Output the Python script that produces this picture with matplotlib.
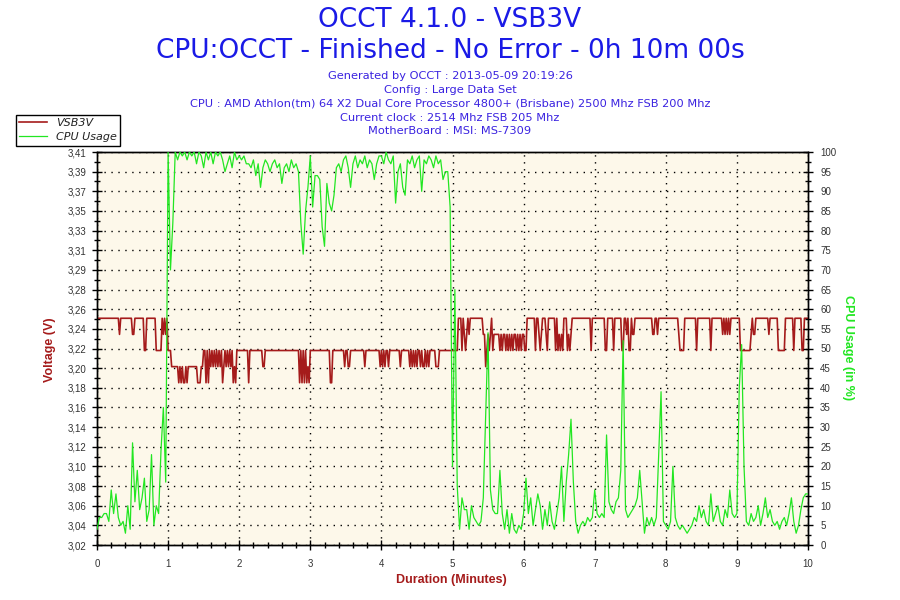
import numpy as np
import matplotlib
matplotlib.use("Agg")
import matplotlib.pyplot as plt
from matplotlib.ticker import FixedLocator, MultipleLocator

# ---------------- data ----------------
# voltage level codes, one character per second, one string per minute
volt_levels = {"A": 3.245, "B": 3.229, "C": 3.213, "D": 3.197, "E": 3.181}
volt_m0 = ("AAAAAAAAAAAAAAAAAAA" "B" "AAAAAAAAAA" "BB" "AAAAAAAA" "CC"
           "AAAAAAAA" "CCCCC" "ABABA")
volt_m1 = ("CCC" "DDDDDD" "EDEDEEDED" "DDDDDDD" "EEE" "DD" "C"
           "CECECDCDCDCDCDCEDCDCDCDCEDECC")
volt_m2 = ("CCCCCCCC" "E" "CCCCCCCCCCC" "DD" "CCCCCCCCCC" "CCCCCCCCCC"
           "CCCCCCCCC" "ECECECEDE")
volt_m3 = ("CCCCCCCCCCCCCCCCC" "EE" "CCCCCCCCCC" "D" "CC" "DD" "CCCCCCCCCCCC"
           "D" "CCCCCCCCCCCC" "D")
volt_m4 = ("CDCDCCDC" "CCCCCCCC" "D" "CCCCCCC" "DCDCDCDCCDCDDCDCDC" "CCCC"
           "DDD" "C" "CCCCCCCCCC")
volt_m5 = ("CCCCC" "AAA" "CABCBAB" "AAAAAAAAAAA" "BBDCBCBAC" "BBBBB"
           "CBCBBCBCBCBCBBCBCBCB")
volt_m6 = ("BCC" "AAAAAAA" "CAA" "BCB" "AAA" "BC" "AAAAA" "ACACBCBCAAACBCB"
           "AAAAAAAAAAAAAAAA" "CAA")
volt_m7 = ("AAAAAAAAA" "CC" "AAAAA" "C" "AAAAAA" "CC" "AA" "BACCABB"
           "AAAAAAAAAAAAAAA" "BB" "AA" "B" "AAAAAA")
volt_m8 = ("AAAAAAAAAAA" "B" "CCCC" "AAAAAAAAAA" "C" "AAAAAAAAAAA" "C"
           "AAAAAAAAA" "BABABAB" "AAAAA")
volt_m9 = ("AAA" "CCCCCCCCC" "BABB" "AAAAAAAAAAA" "B" "AAAAAAA" "CCCCCC"
           "AAAAAAA" "C" "AAAAAA" "CC" "AAA")
volt_end = "A"

# CPU usage (%), one value every 2 seconds, one list per minute
cpu_m0 = [4, 7, 7, 8, 8, 6, 14, 8, 13, 7, 5, 6, 3, 10, 4, 26, 11, 19, 9, 12,
          17, 6, 9, 23, 5, 10, 8, 24, 35, 16]
cpu_m1 = [100, 70, 82, 100, 98, 100, 99, 100, 98, 100, 99, 100, 97, 100, 99,
          96, 100, 98, 100, 97, 100, 99, 100, 98, 95, 97, 99, 96, 100, 98]
cpu_m2 = [99, 98, 99, 97, 97, 96, 98, 94, 97, 91, 96, 98, 97, 95, 97, 98, 96,
          97, 92, 96, 97, 95, 98, 96, 97, 95, 82, 74, 85, 91]
cpu_m3 = [99, 86, 94, 94, 93, 81, 76, 92, 87, 85, 89, 96, 97, 95, 98, 99, 96,
          91, 97, 99, 96, 98, 97, 99, 96, 98, 97, 93, 97, 99]
cpu_m4 = [99, 97, 100, 98, 97, 99, 87, 95, 97, 91, 89, 98, 97, 99, 96, 98, 99,
          90, 98, 97, 99, 98, 96, 99, 97, 98, 93, 95, 95, 86]
cpu_m5 = [20, 65, 15, 4, 12, 9, 9, 4, 10, 7, 6, 5, 6, 12, 33, 54, 14, 9, 8, 8,
          19, 8, 4, 9, 3, 8, 4, 3, 5, 4]
cpu_m6 = [8, 17, 8, 12, 5, 9, 13, 10, 4, 9, 5, 11, 6, 4, 8, 12, 20, 6, 16, 23,
          32, 16, 6, 3, 5, 6, 5, 7, 6, 7]
cpu_m7 = [14, 8, 7, 8, 7, 28, 11, 9, 8, 11, 12, 19, 52, 9, 7, 8, 9, 10, 12, 19,
          11, 3, 7, 5, 7, 5, 7, 23, 39, 6]
cpu_m8 = [5, 4, 6, 20, 7, 5, 4, 5, 4, 3, 4, 5, 7, 6, 10, 7, 9, 6, 5, 13, 6, 8,
          10, 6, 5, 9, 7, 14, 8, 7]
cpu_m9 = [8, 40, 51, 20, 6, 5, 8, 6, 7, 10, 5, 8, 12, 7, 9, 6, 5, 6, 4, 6, 7,
          5, 8, 12, 6, 3, 5, 9, 12, 13]
cpu_end = [13]

volt_tick_labels = ["3,02", "3,04", "3,06", "3,08", "3,10", "3,12", "3,14",
                    "3,16", "3,18", "3,20", "3,22", "3,24", "3,26", "3,28",
                    "3,29", "3,31", "3,33", "3,35", "3,37", "3,39", "3,41"]
cpu_ticks = list(range(0, 101, 5))
minute_ticks = list(range(0, 11))

title1 = "OCCT 4.1.0 - VSB3V"
title2 = "CPU:OCCT - Finished - No Error - 0h 10m 00s"
info_lines = ["Generated by OCCT : 2013-05-09 20:19:26",
              "Config : Large Data Set",
              "CPU : AMD Athlon(tm) 64 X2 Dual Core Processor 4800+ (Brisbane) 2500 Mhz FSB 200 Mhz",
              "Current clock : 2514 Mhz FSB 205 Mhz",
              "MotherBoard : MSI: MS-7309"]

# ---------------- assemble series ----------------
volt_minutes = [volt_m0, volt_m1, volt_m2, volt_m3, volt_m4,
                volt_m5, volt_m6, volt_m7, volt_m8, volt_m9]
cpu_minutes = [cpu_m0, cpu_m1, cpu_m2, cpu_m3, cpu_m4,
               cpu_m5, cpu_m6, cpu_m7, cpu_m8, cpu_m9]

t_v, v = [], []
for m, s in enumerate(volt_minutes):
    n = len(s)
    t_v.extend(m + np.arange(n) / n)
    v.extend(volt_levels[ch] for ch in s)
t_v.append(10.0)
v.append(volt_levels[volt_end])

t_c, c = [], []
for m, vals in enumerate(cpu_minutes):
    n = len(vals)
    t_c.extend(m + np.arange(n) / n)
    c.extend(vals)
t_c.append(10.0)
c.extend(cpu_end)

# ---------------- figure ----------------
W, H = 900, 600
fig = plt.figure(figsize=(9, 6), dpi=100)
fig.patch.set_facecolor("white")
L, R, T, B = 97, 808, 152, 545
ax = fig.add_axes([L / W, 1 - B / H, (R - L) / W, (B - T) / H])
ax.set_facecolor("#FDF8EA")
ax2 = ax.twinx()

red = "#A51B1B"
green = "#22E622"
blue = "#1A1AE6"
tickc = "#333333"

line_v, = ax.plot(t_v, v, color=red, lw=1.2, zorder=3)
line_c, = ax2.plot(t_c, c, color=green, lw=0.9, zorder=3)

ax.set_xlim(0, 10)
ax.set_ylim(3.02, 3.41)
ax2.set_ylim(0, 100)

vpos = np.linspace(3.02, 3.41, len(volt_tick_labels))
ax.yaxis.set_major_locator(FixedLocator(vpos))
ax.set_yticklabels(volt_tick_labels)
ax.yaxis.set_minor_locator(FixedLocator((vpos[:-1] + vpos[1:]) / 2))
ax.set_xticks(minute_ticks)
ax.xaxis.set_minor_locator(MultipleLocator(0.2))
ax2.set_yticks(cpu_ticks)
ax2.yaxis.set_minor_locator(MultipleLocator(2.5))

for a in (ax, ax2):
    for lab in a.get_yticklabels() + a.get_xticklabels():
        lab.set_fontfamily("Liberation Sans")
ax.tick_params(axis="y", which="major", direction="inout", length=7.5, width=1,
               labelsize=7, labelcolor=tickc, pad=4)
ax.tick_params(axis="y", which="minor", direction="inout", length=4.5, width=1)
ax.tick_params(axis="x", which="major", direction="inout", length=7.5, width=1,
               labelsize=7, labelcolor=tickc, pad=6)
ax.tick_params(axis="x", which="minor", direction="inout", length=4.5, width=1)
ax2.tick_params(axis="y", which="major", direction="inout", length=7.5, width=1,
                labelsize=7, labelcolor=tickc, pad=5)
ax2.tick_params(axis="y", which="minor", direction="inout", length=4.5, width=1)

ax.grid(which="major", axis="both", color="black", linestyle=(0, (1, 4)),
        linewidth=1.0)
ax.set_axisbelow(True)
for a in (ax, ax2):
    for sp in a.spines.values():
        sp.set_color("black")
        sp.set_linewidth(1.0)

# ---------------- texts ----------------
def fy(px):
    return 1 - px / H

fig.text(0.5, fy(20), title1, ha="center", va="center", color=blue,
         fontsize=19, family="DejaVu Sans")
fig.text(0.5, fy(51), title2, ha="center", va="center", color=blue,
         fontsize=19, family="DejaVu Sans")
for yy, s in zip([76, 90, 104, 118, 131], info_lines):
    fig.text(0.5, fy(yy), s, ha="center", va="center", color="#3A22E0",
             fontsize=8.2, family="DejaVu Sans")

fig.text(50 / W, fy(350), "Voltage (V)", rotation=90, ha="center",
         va="center", color=red, fontsize=9, fontweight="bold",
         family="Liberation Sans")
fig.text(848 / W, fy(348), "CPU Usage (in %)", rotation=270, ha="center",
         va="center", color=green, fontsize=9, fontweight="bold",
         family="Liberation Sans")
fig.text(451 / W, fy(580), "Duration (Minutes)", ha="center", va="center",
         color=red, fontsize=9, fontweight="bold", family="Liberation Sans")

leg = fig.legend([line_v, line_c], ["VSB3V", "CPU Usage"], loc="upper left",
                 bbox_to_anchor=(16 / W, fy(115)),
                 bbox_transform=fig.transFigure, frameon=True,
                 fancybox=False, framealpha=1, edgecolor="black",
                 borderaxespad=0, handlelength=2.5, handletextpad=0.8,
                 borderpad=0.3, labelspacing=0.35,
                 prop=dict(family="DejaVu Sans", style="italic", size=8))
leg.get_frame().set_linewidth(1.0)
for txt in leg.get_texts():
    txt.set_color("#222222")

fig.savefig("out.png", dpi=100, facecolor="white")
